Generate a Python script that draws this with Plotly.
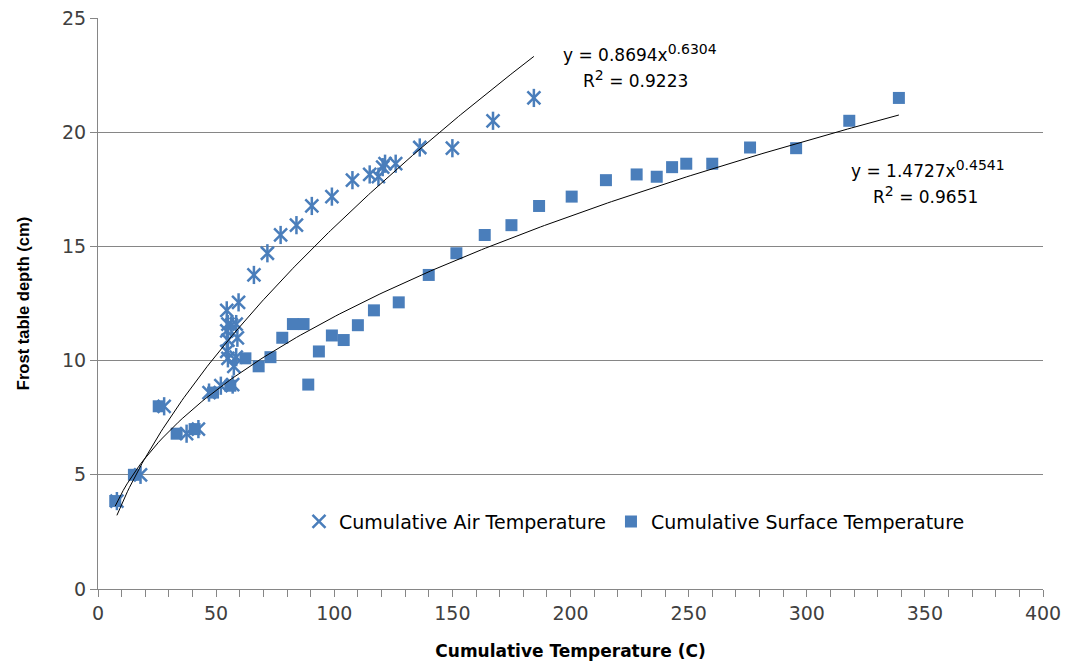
import numpy as np
import plotly.graph_objects as go

# Cumulative air temperature (C) vs frost table depth (cm)
air_x = [8.0, 18, 28, 37.5, 42.5, 47, 52, 57, 57.5, 55, 58.5, 54.5, 55, 59, 54.5,
         55, 58.5, 56.5, 54.5, 59.5, 66, 71.7, 77.3, 84, 90.5, 99, 107.7, 115,
         118.7, 120.5, 121.5, 126, 136.2, 150, 167.2, 184.5]
air_y = [3.85, 5.0, 8.0, 6.8, 7.0, 8.6, 8.9, 8.95, 9.75, 10.1, 10.15, 10.4, 10.9,
         11.0, 11.3, 11.6, 11.6, 11.55, 12.2, 12.55, 13.75, 14.7, 15.5, 15.93,
         16.77, 17.18, 17.9, 18.15, 18.05, 18.47, 18.62, 18.62, 19.33, 19.3,
         20.5, 21.5]

# Cumulative surface temperature (C) vs frost table depth (cm)
surf_x = [7.3, 15.2, 25.7, 33.3, 40.9, 48.7, 56, 62.4, 68, 73, 78, 82.5, 87, 89,
          93.5, 99, 104, 110, 116.8, 127.3, 140, 151.7, 163.7, 175, 186.7, 200.5,
          215, 228, 236.5, 243, 249, 260, 276, 295.5, 318, 339]
surf_y = [3.85, 5.0, 8.0, 6.8, 7.0, 8.6, 8.9, 10.1, 9.75, 10.15, 11.0, 11.6, 11.6,
          8.95, 10.4, 11.1, 10.9, 11.55, 12.2, 12.55, 13.75, 14.7, 15.5, 15.93,
          16.77, 17.18, 17.9, 18.15, 18.05, 18.47, 18.62, 18.62, 19.33, 19.3,
          20.5, 21.5]

# Power-law fits y = a * x^b, with R squared
air_fit = (0.8694, 0.6304, 0.9223)
surf_fit = (1.4727, 0.4541, 0.9651)

x_ticks = [0, 50, 100, 150, 200, 250, 300, 350, 400]
y_ticks = [0, 5, 10, 15, 20, 25]

BLUE = "#4a7ebb"
GRID = "#868686"
WIDE = "DejaVu Sans, Verdana, sans-serif"
NARROW = "Liberation Sans, Arial, sans-serif"

fig = go.Figure()

# Air temperature: six-armed star built from an X plus a vertical bar
fig.add_trace(go.Scatter(
    x=air_x, y=air_y, mode="markers", name="Cumulative Air Temperature",
    legendgroup="air",
    marker=dict(symbol="x-thin-open", size=13, color=BLUE,
                line=dict(color=BLUE, width=2.5)),
))
fig.add_trace(go.Scatter(
    x=air_x, y=air_y, mode="markers", showlegend=False, legendgroup="air",
    hoverinfo="skip",
    marker=dict(symbol="line-ns-open", size=13, color=BLUE,
                line=dict(color=BLUE, width=2.5)),
))
fig.add_trace(go.Scatter(
    x=surf_x, y=surf_y, mode="markers", name="Cumulative Surface Temperature",
    marker=dict(symbol="square", size=12, color=BLUE),
))


def fit_curve(xs, coeffs):
    a, b, _ = coeffs
    xx = np.linspace(min(xs), max(xs), 200)
    return xx, a * xx ** b


for xs, coeffs in ((air_x, air_fit), (surf_x, surf_fit)):
    fx, fy = fit_curve(xs, coeffs)
    fig.add_trace(go.Scatter(x=fx, y=fy, mode="lines", showlegend=False,
                             hoverinfo="skip",
                             line=dict(color="black", width=1)))

ann_font = dict(family=WIDE, size=17, color="#000000")


def eq_text(a, b):
    return f"y = {a}x<sup><span style='font-size:14px'>{b}</span></sup>"


def r2_text(r2):
    return f"R<sup><span style='font-size:14px'>2</span></sup> = {r2}"


for (x0, y0, txt) in (
    (195.8, 23.47, eq_text(air_fit[0], air_fit[1])),
    (204.6, 22.35, r2_text(air_fit[2])),
    (318.0, 18.39, eq_text(surf_fit[0], surf_fit[1])),
    (327.0, 17.26, r2_text(surf_fit[2])),
):
    fig.add_annotation(x=x0, y=y0, xref="x", yref="y", showarrow=False,
                       xanchor="left", text=txt, font=ann_font)

fig.update_layout(
    width=1066, height=663,
    margin=dict(l=98, r=23, t=18, b=74),
    paper_bgcolor="white", plot_bgcolor="white",
    font=dict(family=WIDE, size=19, color="#404040"),
    legend=dict(orientation="h", x=0.2127, y=0.118, xanchor="left",
                yanchor="middle", bgcolor="rgba(0,0,0,0)",
                font=dict(family=WIDE, size=19, color="#000000"),
                itemwidth=30),
    xaxis=dict(
        range=[0, 400], tickvals=x_ticks, ticks="outside", ticklen=7,
        tickcolor=GRID, showgrid=False, zeroline=False, automargin=False,
        showline=True, linecolor=GRID, linewidth=1,
        tickfont=dict(family=WIDE, size=19, color="#404040"),
        minor=dict(dtick=10, ticks="outside", ticklen=7, tickcolor=GRID),
        title=dict(text="<b>Cumulative Temperature (C)</b>", standoff=22,
                   font=dict(family=WIDE, size=17, color="#000000")),
    ),
    yaxis=dict(
        range=[0, 25], tickvals=y_ticks, ticks="outside", ticklen=7,
        tickcolor=GRID, showgrid=True, gridcolor=GRID, gridwidth=1,
        zeroline=False, showline=True, linecolor=GRID, linewidth=1,
        automargin=False,
        tickfont=dict(family=WIDE, size=19, color="#404040"),
        title=dict(text="<b>Frost table depth (cm)</b>", standoff=28,
                   font=dict(family=NARROW, size=16.5, color="#000000")),
    ),
)

fig.write_html("out.html")
